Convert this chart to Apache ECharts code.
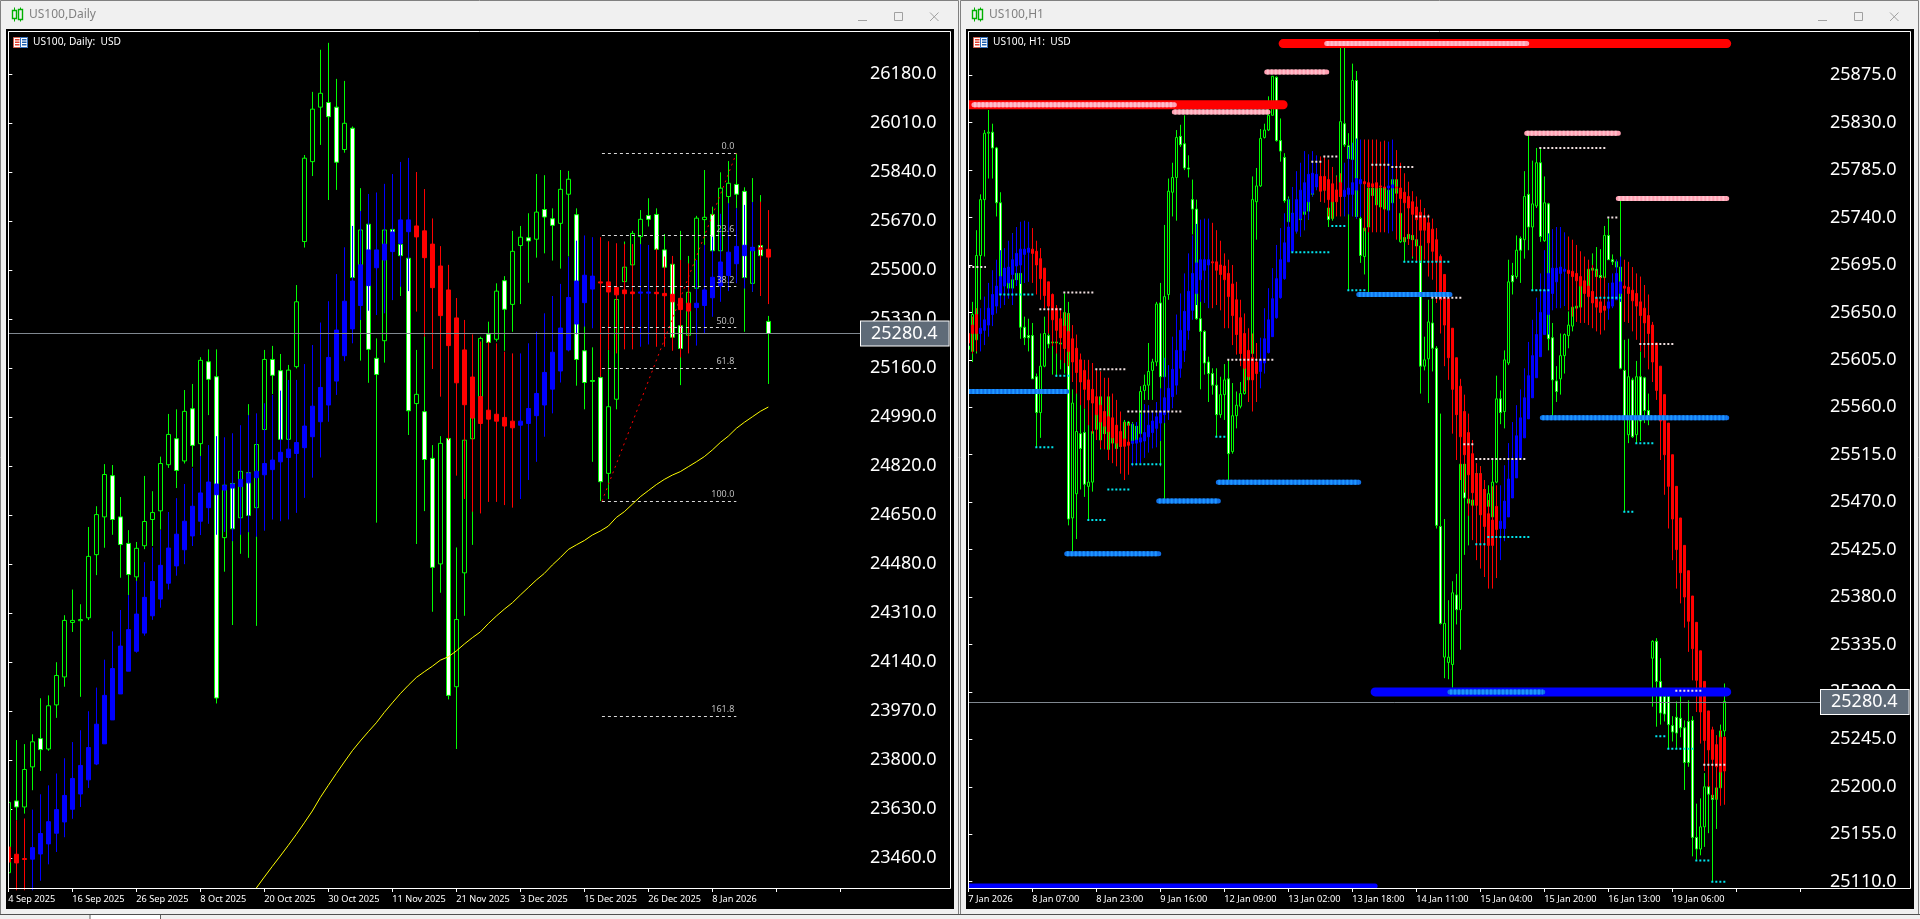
<!DOCTYPE html>
<html><head><meta charset="utf-8">
<style>html,body{margin:0;padding:0;background:#f0f0f0}#c{width:1920px;height:919px}</style>
<script src="https://cdn.jsdelivr.net/npm/echarts@6/dist/echarts.min.js"></script>
</head><body><div id="c"></div>
<script>
// ---------- categories / tick labels
const dailyTickLabels=['4 Sep 2025','16 Sep 2025','26 Sep 2025','8 Oct 2025','20 Oct 2025','30 Oct 2025','11 Nov 2025','21 Nov 2025','3 Dec 2025','15 Dec 2025','26 Dec 2025','8 Jan 2026'];
const h1TickLabels=['7 Jan 2026','8 Jan 07:00','8 Jan 23:00','9 Jan 16:00','12 Jan 09:00','13 Jan 02:00','13 Jan 18:00','14 Jan 11:00','15 Jan 04:00','15 Jan 20:00','16 Jan 13:00','19 Jan 06:00'];
const dailyPriceTicks=[23460,23630,23800,23970,24140,24310,24480,24650,24820,24990,25160,25330,25500,25670,25840,26010,26180];
const h1PriceTicks=[25110,25155,25200,25245,25290,25335,25380,25425,25470,25515,25560,25605,25650,25695,25740,25785,25830,25875];
const lastPrice=25280.4;
// ---------- daily price candles [open, close, low, high]
const dailyCandles=[[23410,23654,23384,23685],[23659,23638,23592,23870],[23638,23768,23615,23856],[23777,23864,23696,23890],[23875,23837,23763,24015],[23839,23989,23833,24025],[23992,24094,23947,24140],[24089,24285,24055,24303],[24278,24285,24245,24392],[24284,24288,24020,24341],[24294,24507,24286,24609],[24513,24652,24442,24681],[24644,24791,24537,24827],[24787,24635,24582,24824],[24644,24548,24433,24713],[24552,24444,24373,24598],[24436,24535,24422,24557],[24544,24628,24532,24786],[24635,24659,24543,24733],[24665,24829,24600,24853],[24825,24930,24814,25001],[24915,24805,24744,25017],[24838,25010,24829,25084],[25019,24892,24818,25105],[24898,25187,24854,25198],[25182,25121,24997,25225],[25130,24016,23997,25225],[24572,24754,24454,24772],[24760,24603,24269,24772],[24641,24802,24516,24824],[24797,24649,24502,25035],[24676,24895,24266,24910],[24947,25190,24910,25223],[25190,25135,25070,25237],[25151,24913,24887,25209],[24913,25153,24910,25171],
[25165,25390,25159,25448],[25599,25888,25578,25899],[25876,26058,25826,26118],[26065,26113,25934,26264],[26081,26032,25743,26288],[26065,25874,25778,26163],[25918,26009,25907,26156],[25992,25474,25300,25998],[25512,25639,25186,25784],[25659,25225,25109,25662],[25194,25138,24624,25263],[25255,25639,25179,25641],[25641,25631,25396,25645],[25589,25550,25410,25627],[25541,25012,24928,25546],[25037,25069,24550,25223],[25009,24843,24664,25275],[24847,24469,24315,24893],[24481,24899,24381,24924],[24916,24025,24011,24934],[24055,24288,23839,24538],[24450,24910,24301,24934],[24915,24988,24547,25130],[25061,25263,24841,25269],
[25278,25249,25246,25321],[25260,25427,25252,25454],[25463,25364,25220,25479],[25381,25565,25286,25636],[25585,25614,25382,25653],[25612,25601,25456,25697],[25607,25701,25543,25833],[25710,25684,25558,25829],[25678,25655,25533,25714],[25662,25780,25505,25847],[25763,25815,25547,25844],[25692,25190,25099,25714],[25220,25110,25017,25309],[25117,25114,24835,25232],[25127,24766,24699,25260],[24795,25026,24706,25223],[25052,25398,25017,25402],[25460,25510,25280,25599],[25518,25627,25419,25636],[25616,25676,25587,25708],[25689,25676,25651,25749],[25693,25572,25547,25714],[25570,25510,25500,25625],[25520,25267,25246,25523],[25307,25228,25101,25636],[25274,25423,25269,25549],[25437,25680,25433,25688],[25675,25683,25587,25847],[25693,25567,25564,25720],[25567,25784,25564,25839],[25755,25801,25697,25878],[25797,25763,25714,25905],[25773,25474,25286,25787],[25454,25578,25425,25819],[25585,25550,25547,25760],[25322,25280,25105,25341]];
// ---------- daily smoothed overlay candles [open, close, low, high]
const dailyOverlay=[[23499,23447,23355,23604],[23474,23444,23349,23592],[23459,23456,23349,23598],[23457,23497,23349,23629],[23475,23546,23382,23682],[23510,23587,23439,23713],[23547,23629,23482,23754],[23586,23678,23533,23807],[23630,23737,23597,23863],[23683,23782,23638,23904],[23732,23844,23704,23970],[23787,23925,23783,24052],[23857,24025,23857,24149],[23940,24118,23940,24247],[24030,24196,24030,24321],[24109,24253,24109,24373],[24178,24307,24173,24422],[24241,24365,24232,24487],[24301,24420,24287,24538],[24359,24476,24329,24598],[24414,24536,24392,24661],[24474,24584,24440,24709],[24530,24629,24480,24758],[24578,24681,24543,24813],[24629,24727,24581,24855],[24676,24765,24620,24893],[24721,24758,24582,24924],[24737,24753,24592,24920],[24744,24758,24560,24934],[24749,24774,24582,24962],[24762,24795,24591,24997],[24780,24802,24575,25003],[24790,24829,24596,25038],[24808,24841,24635,25067],[24835,24868,24629,25082],[24850,24879,24635,25119],[24864,24902,24658,25119],[24884,24959,24710,25174],[24922,25028,24780,25240],[24974,25093,24850,25318],[25032,25197,24974,25392],[25115,25292,25067,25486],[25203,25392,25184,25579],[25296,25462,25246,25653],[25377,25518,25327,25705],[25446,25570,25359,25764],[25508,25570,25344,25769],[25535,25590,25350,25799],[25564,25632,25396,25833],[25593,25674,25442,25875],[25633,25674,25427,25889],
[25653,25615,25356,25840],[25636,25543,25269,25781],[25590,25439,25157,25679],[25514,25342,25061,25583],[25431,25238,24910,25518],[25334,25109,24787,25403],[25223,25033,24706,25327],[25129,24987,24662,25277],[25061,24968,24656,25252],[25014,24983,24696,25252],[25000,24976,24696,25246],[24989,24959,24685,25217],[24976,24953,24676,25211],
[24962,24976,24706,25211],[24968,25020,24772,25246],[24995,25072,24835,25286],[25032,25145,24922,25350],[25087,25215,25003,25410],[25150,25299,25110,25452],[25223,25405,25218,25546],[25313,25462,25277,25602],[25387,25482,25304,25620],[25434,25479,25298,25614],
[25459,25455,25130,25614],[25459,25424,25223,25600],[25440,25414,25211,25593],[25431,25418,25225,25590],[25424,25418,25225,25590],[25420,25424,25234,25590],[25420,25424,25242,25587],[25423,25418,25234,25575],[25419,25411,25234,25547],[25416,25390,25220,25549],[25402,25363,25197,25535],[25385,25358,25211,25523],
[25370,25385,25238,25535],[25377,25431,25280,25587],[25404,25475,25338,25616],[25445,25528,25390,25695],[25481,25562,25427,25732],[25522,25582,25454,25714],[25550,25586,25436,25726],[25567,25579,25425,25736],[25577,25572,25410,25737],[25572,25545,25382,25708]];
// ---------- daily moving average (first bar index, then one value per bar)
const dailyMaStart=31;
const dailyMa=[23357,23395,23432,23468,23505,23543,23583,23624,23671,23713,23754,23794,23833,23867,23899,23930,23966,23999,24031,24060,24087,24107,24126,24147,24159,24179,24203,24225,24245,24274,24300,24324,24346,24373,24399,24425,24448,24477,24503,24531,24547,24562,24581,24595,24612,24642,24662,24688,24714,24735,24756,24774,24789,24801,24818,24835,24853,24876,24902,24924,24951,24972,24991,25010,25025];
// ---------- daily Fibonacci retracement
const fibNames=['0.0','23.6','38.2','50.0','61.8','100.0','161.8'];
const fibPrices=[25905,25620,25443,25301,25160,24698,23953];
const fibFromBar=74.2, fibToBar=91;
// ---------- H1 price candles [open, close, low, high]
const h1Candles=[[25618,25615,25613,25630],[25613,25648,25603,25660],[25624,25704,25611,25728],[25704,25757,25662,25762],[25757,25820,25703,25823],[25820,25821,25777,25842],[25821,25806,25777,25829],[25806,25754,25741,25807],[25754,25684,25668,25764],[25686,25678,25671,25697],[25673,25681,25668,25694],[25673,25681,25657,25725],[25687,25681,25678,25697],[25687,25636,25625,25687],[25636,25626,25619,25646],[25628,25626,25613,25644],[25628,25587,25587,25640],[25589,25555,25522,25592],[25555,25599,25531,25630],[25599,25630,25598,25646],[25628,25620,25616,25660],[25621,25622,25591,25630],[25621,25622,25589,25646],[25621,25620,25596,25630],[25616,25650,25592,25668],[25649,25454,25448,25660],[25455,25564,25423,25577],[25478,25537,25435,25577],[25535,25521,25482,25564],[25536,25487,25475,25559],
[25485,25489,25453,25573],[25489,25537,25480,25564],[25539,25562,25529,25570],[25529,25570,25520,25594],[25554,25535,25521,25570],[25520,25570,25510,25586],[25526,25545,25513,25554],[25529,25521,25516,25545],[25535,25523,25520,25539],[25528,25546,25523,25548],[25546,25543,25516,25547],[25526,25544,25520,25546],[25542,25529,25526,25545],[25535,25575,25526,25580],[25576,25581,25567,25591],[25581,25594,25567,25621],[25595,25603,25567,25606],[25603,25658,25599,25660],[25659,25589,25504,25678],[25589,25665,25472,25733],
[25667,25765,25662,25777],[25764,25778,25741,25792],[25778,25816,25737,25823],[25817,25809,25807,25828],[25810,25787,25785,25837],[25787,25786,25778,25799],[25757,25748,25724,25776],[25748,25644,25643,25757],[25644,25632,25577,25668],[25632,25602,25591,25633],[25603,25592,25565,25608],[25592,25581,25572,25597],[25581,25553,25532,25597],[25553,25572,25550,25589],[25572,25586,25548,25601],[25587,25516,25491,25605],[25518,25552,25516,25583],[25552,25562,25540,25575],[25561,25573,25559,25584],[25573,25599,25572,25616],
[25586,25599,25583,25611],[25611,25757,25567,25779],[25755,25770,25719,25787],[25770,25815,25769,25824],[25816,25823,25815,25829],[25823,25837,25822,25855],[25837,25874,25837,25874],[25873,25813,25812,25874],[25813,25803,25793,25834],[25797,25756,25754,25801],[25736,25757,25706,25760],[25735,25744,25716,25757],[25735,25741,25725,25747],[25738,25744,25722,25757],[25743,25746,25728,25757],[25746,25763,25738,25777],[25762,25779,25760,25785],[25779,25776,25766,25780],[25766,25777,25755,25788],[25766,25771,25760,25798],
[25749,25738,25731,25766],[25739,25760,25737,25779],[25758,25766,25757,25780],[25760,25831,25755,25901],[25829,25809,25807,25901],[25808,25796,25671,25820],[25795,25870,25754,25886],[25870,25741,25739,25879],[25739,25704,25697,25741],[25703,25730,25686,25733],[25731,25768,25668,25773],[25768,25761,25753,25771],[25752,25768,25750,25773],[25768,25750,25749,25771],[25768,25748,25747,25769],[25747,25766,25747,25769],[25754,25776,25753,25777],[25763,25776,25744,25777],[25717,25744,25716,25744],[25721,25717,25698,25725],
[25724,25720,25714,25725],[25723,25719,25701,25725],[25719,25713,25697,25720],[25713,25599,25573,25714],[25599,25605,25595,25627],[25606,25641,25564,25662],[25640,25616,25594,25663],[25616,25448,25445,25618],[25447,25355,25354,25554],[25323,25355,25303,25454],[25318,25323,25302,25377],[25316,25384,25294,25395],[25382,25368,25354,25402],[25368,25506,25330,25510],[25506,25474,25420,25510],[25469,25473,25429,25488],[25467,25472,25453,25485],[25497,25479,25441,25504],[25479,25497,25434,25504],[25482,25469,25425,25488],
[25466,25478,25428,25486],[25456,25489,25441,25510],[25489,25568,25488,25590],[25568,25555,25544,25576],[25556,25605,25540,25614],[25602,25679,25600,25700],[25685,25679,25667,25697],[25684,25709,25682,25723],[25720,25709,25678,25722],[25719,25760,25701,25784],[25762,25731,25709,25818],[25731,25753,25671,25794],[25751,25792,25749,25806],[25792,25722,25717,25806],[25718,25754,25717,25779],[25753,25625,25614,25754],[25626,25586,25550,25640],[25585,25575,25565,25599],[25587,25609,25572,25630],[25609,25629,25592,25630],
[25628,25638,25616,25651],[25637,25655,25632,25656],[25654,25656,25644,25675],[25655,25675,25654,25676],[25675,25671,25668,25694],[25673,25691,25671,25695],[25690,25692,25678,25706],[25691,25684,25676,25712],[25685,25683,25678,25710],[25683,25723,25682,25732],[25723,25700,25700,25739],[25700,25698,25695,25705],[25698,25693,25692,25700],[25693,25597,25596,25757],[25595,25551,25461,25624],[25534,25589,25526,25625],[25586,25532,25531,25588],[25534,25589,25526,25604],[25589,25547,25528,25613],[25588,25557,25545,25589],
[25557,25552,25543,25573],[25322,25338,25276,25339],[25338,25300,25257,25341],[25300,25270,25259,25322],[25286,25269,25262,25287],[25286,25259,25236,25287],[25258,25252,25243,25267],[25266,25251,25236,25281],[25265,25256,25247,25286],[25256,25223,25197,25263],[25262,25223,25219,25282],[25263,25152,25134,25267],[25152,25141,25131,25184],[25141,25162,25135,25189],[25162,25200,25143,25213],[25200,25193,25156,25203],[25192,25188,25110,25194],[25188,25199,25160,25213],[25199,25253,25183,25259],[25253,25281,25248,25298]];
// ---------- H1 smoothed overlay candles [open, close, low, high]
const h1Overlay=[[25630,25621,25611,25643],[25638,25630,25611,25646],[25648,25630,25613,25654],[25630,25635,25613,25654],[25633,25643,25619,25665],[25638,25654,25627,25678],[25648,25667,25637,25690],[25656,25675,25649,25700],[25667,25684,25654,25709],[25675,25692,25657,25711],[25678,25693,25663,25718],[25686,25700,25657,25725],[25694,25706,25675,25731],[25695,25710,25677,25736],[25705,25710,25678,25737],[25707,25711,25679,25736],[25710,25706,25678,25730],[25708,25695,25667,25718],[25701,25682,25662,25711],[25692,25666,25654,25692],[25679,25656,25630,25679],[25667,25643,25618,25668],[25654,25633,25611,25657],[25644,25626,25605,25654],[25637,25616,25602,25650],[25632,25613,25599,25649],[25625,25603,25584,25638],[25616,25593,25573,25629],[25605,25584,25562,25611],[25595,25577,25559,25605],
[25586,25567,25543,25605],[25577,25564,25535,25602],[25570,25553,25529,25596],[25562,25546,25521,25594],[25556,25542,25520,25588],[25551,25537,25510,25588],[25550,25531,25507,25573],[25543,25526,25504,25567],[25537,25523,25497,25556],[25530,25523,25491,25546],[25527,25524,25496,25545],[25526,25528,25504,25545],[25526,25529,25505,25546],[25527,25531,25507,25554],[25528,25536,25512,25563],[25532,25543,25517,25562],[25536,25547,25521,25556],[25540,25551,25522,25565],[25545,25556,25528,25578],[25553,25569,25545,25607],
[25557,25578,25548,25600],[25570,25596,25559,25627],[25581,25614,25572,25648],[25597,25633,25588,25668],[25614,25651,25603,25687],[25633,25670,25624,25706],[25652,25687,25643,25723],[25668,25697,25657,25734],[25681,25700,25660,25738],[25690,25700,25659,25739],[25695,25700,25654,25739],[25698,25697,25654,25735],[25698,25690,25657,25728],[25695,25686,25652,25718],[25694,25681,25635,25706],[25687,25665,25635,25700],[25677,25647,25619,25695],[25662,25629,25610,25679],[25645,25611,25599,25662],[25630,25597,25575,25649],
[25614,25589,25565,25635],[25607,25586,25556,25630],[25603,25592,25565,25621],[25594,25605,25578,25626],[25602,25625,25592,25654],[25612,25643,25611,25673],[25627,25663,25627,25692],[25645,25682,25644,25714],[25664,25700,25663,25730],[25682,25716,25681,25744],[25698,25731,25698,25758],[25708,25744,25708,25769],[25727,25757,25725,25784],[25739,25766,25722,25792],[25746,25773,25728,25803],[25755,25781,25738,25800],[25763,25782,25760,25803],[25769,25781,25766,25799],[25779,25765,25755,25798],[25779,25766,25754,25798],
[25776,25757,25741,25795],[25772,25755,25739,25788],[25766,25755,25741,25779],[25773,25760,25741,25782],[25760,25766,25741,25792],[25762,25768,25743,25807],[25762,25773,25741,25811],[25766,25777,25739,25815],[25772,25776,25741,25814],[25774,25772,25727,25814],[25773,25769,25726,25814],[25772,25769,25726,25814],[25773,25768,25726,25814],[25770,25769,25726,25812],[25769,25768,25726,25813],[25768,25770,25725,25812],[25768,25771,25727,25814],[25769,25768,25719,25804],[25768,25758,25719,25792],[25764,25754,25717,25782],
[25760,25749,25714,25774],[25755,25743,25703,25765],[25750,25738,25698,25760],[25745,25728,25697,25757],[25740,25728,25700,25749],[25735,25716,25684,25743],[25729,25708,25681,25739],[25719,25698,25659,25730],[25703,25662,25630,25705],[25686,25638,25599,25686],[25663,25607,25586,25663],[25635,25577,25535,25635],[25607,25553,25510,25607],[25580,25532,25491,25587],[25556,25515,25479,25572],[25536,25496,25457,25554],[25516,25479,25434,25529],[25497,25467,25415,25507],[25497,25458,25407,25504],[25482,25447,25399,25491],
[25459,25429,25388,25472],[25453,25429,25388,25485],[25466,25444,25398,25486],[25445,25452,25415,25486],[25445,25471,25433,25505],[25456,25492,25456,25526],[25474,25510,25474,25546],[25493,25533,25493,25562],[25512,25550,25511,25577],[25531,25569,25531,25597],[25549,25590,25549,25622],[25569,25609,25569,25643],[25588,25629,25588,25664],[25608,25650,25608,25687],[25629,25671,25629,25709],[25648,25687,25629,25725],[25668,25692,25652,25729],[25679,25692,25654,25731],[25687,25693,25654,25731],[25689,25691,25656,25726],
[25690,25687,25652,25722],[25689,25684,25646,25719],[25687,25680,25641,25714],[25684,25675,25640,25708],[25680,25668,25640,25703],[25675,25665,25638,25700],[25670,25659,25635,25695],[25664,25655,25632,25690],[25660,25650,25629,25684],[25656,25652,25633,25684],[25654,25660,25643,25678],[25656,25678,25654,25687],[25662,25687,25662,25700],[25668,25679,25660,25703],[25675,25673,25641,25700],[25674,25668,25640,25698],[25671,25661,25632,25693],[25668,25656,25624,25687],[25660,25647,25613,25684],[25654,25640,25607,25676],
[25647,25630,25596,25667],[25638,25603,25584,25641],[25621,25576,25567,25621],[25599,25547,25510,25599],[25572,25515,25477,25572],[25545,25485,25445,25545],[25515,25454,25415,25515],[25485,25425,25388,25485],[25455,25403,25374,25455],[25429,25380,25351,25429],[25405,25357,25328,25405],[25381,25331,25301,25381],[25356,25301,25271,25356],[25329,25271,25241,25329],[25300,25244,25215,25300],[25272,25235,25200,25272],[25254,25226,25189,25257],[25240,25219,25188,25249],[25247,25214,25182,25254],[25247,25215,25183,25248]];
// ---------- H1 support / resistance levels: [price, from bar, to bar]
const redZones=[[25847,0,78.7],[25905,78.7,189.6]];
const blueZones=[[25290,101.7,189.6]];
const blueFloor=[[25106,0,101.7]];
const pinkLevels=[[25847,1.4,51.5],[25840,51.5,74.9],[25878,74.6,89.6],[25905,89.6,139.6],[25820,139.6,162.5],[25758,162.5,189.6]];
const skyLevels=[[25575,0,24.6],[25421,24.6,47.6],[25471,47.6,62.5],[25489,62.5,97.6],[25667,97.6,120.4],[25550,143.5,189.6],[25290,120.4,143.6]];
const whiteTicks=[[25693,0,4.4],[25669,23.75,31.4],[25653,17.75,23.3],[25596,31.75,39.4],[25556,39.75,53.3],[25605,64.75,76.4],[25798,88.75,92.5],[25793,85.75,88.4],[25790,100.75,105.4],[25788,105.75,111.4],[25741,111.75,115.4],[25664,115.75,123.3],[25806,142.75,159.4],[25740,159.75,162.4],[25620,167.75,176.4],[25525,123.75,126.4],[25511,126.75,139.4],[25291,176.75,183.5],[25221,183.75,189.4]];
const cyanTicks=[[25667,7.75,16.4],[25590,21.75,25.3],[25522,16.75,21.4],[25506,40.75,48.4],[25482,34.75,40.4],[25453,29.75,34.4],[25532,61.75,64.4],[25707,80.75,90.4],[25732,90.75,94.4],[25671,94.75,99.4],[25698,108.75,120.4],[25671,140.75,145.4],[25664,156.75,163.4],[25526,166.75,171.4],[25461,163.75,166.4],[25437,129.75,140.4],[25430,126.75,129.4],[25248,171.75,174.4],[25236,174.75,181.4],[25130,181.75,185.4],[25110,185.75,189.4]];

const UI='"Noto Sans",sans-serif';
const bars=a=>a.map((r,i)=>[i,r[0],r[1],r[2],r[3]]);
const levelData=a=>{const o=[];a.forEach(r=>{o.push([r[1],r[0]],[r[2],r[0]],[r[2],'-']);});return o;};

function candle(name,data,ax,up,down,bu,bd,width,z){
  return {type:'candlestick',name,data:bars(data),xAxisIndex:ax,yAxisIndex:ax,encode:{x:0,y:[1,2,3,4]},barWidth:width,z,silent:true,
    itemStyle:{color:up,color0:down,borderColor:bu,borderColor0:bd,borderColorDoji:bu,borderWidth:1}};
}
function level(name,rows,ax,color,width,dash,cap,z){
  return {type:'line',name,data:levelData(rows),xAxisIndex:ax,yAxisIndex:ax,showSymbol:false,symbol:'none',silent:true,connectNulls:false,z,
    lineStyle:{color,width,type:dash,cap}};
}
function priceLine(ax){
  return [
   {type:'line',data:[],xAxisIndex:ax,yAxisIndex:ax,z:1,markLine:{silent:true,symbol:'none',animation:false,label:{show:false},
      lineStyle:{color:'#808890',width:1,type:'solid'},data:[{yAxis:lastPrice}]}},
   {type:'line',data:[],xAxisIndex:ax,yAxisIndex:ax,z:30,markLine:{silent:true,symbol:'none',animation:false,
      lineStyle:{color:'transparent',width:0},
      label:{show:true,position:'end',distance:1,formatter:lastPrice.toFixed(1),color:'#fff',fontFamily:UI,fontSize:18,lineHeight:22,
        backgroundColor:'#5f6b78',borderColor:'#fff',borderWidth:1,padding:[2,11,0,10]},
      data:[{yAxis:lastPrice}]}}
  ];
}
function xAxis(ax,step,maxv,labels){
  return {type:'value',gridIndex:ax,min:0,max:maxv,interval:step,position:'bottom',
    axisLine:{show:true,onZero:false,lineStyle:{color:'#fff',width:1}},axisTick:{show:true,length:4,lineStyle:{color:'#fff'}},splitLine:{show:false},
    axisLabel:{color:'#fff',fontFamily:UI,fontSize:9.2,margin:7,align:'left',showMaxLabel:false,hideOverlap:false,formatter:v=>labels[Math.round(v/step)]||''}};
}
function yAxis(ax,min,max,ticks){
  return {type:'value',gridIndex:ax,min,max,position:'right',scale:true,
    axisLine:{show:true,lineStyle:{color:'#fff',width:1}},axisTick:{show:true,length:4,inside:false,customValues:ticks,lineStyle:{color:'#fff'}},splitLine:{show:false},
    axisLabel:{color:'#fff',fontFamily:UI,fontSize:18,margin:10,padding:[2,0,0,0],customValues:ticks,formatter:v=>v.toFixed(1)}};
}
function chrome(dx,title,sub){
  const g=[];
  const gray='#a0a0a0';
  g.push({type:'rect',z:-6,shape:{x:dx+0.5,y:0.5,width:958,height:914},style:{fill:'#f0f0f0',stroke:'#808080',lineWidth:1}});
  g.push({type:'rect',z:-5,shape:{x:dx+6,y:29,width:948,height:880},style:{fill:'#000'}});
  g.push({type:'rect',z:38,shape:{x:dx+1,y:30,width:5,height:878},style:{fill:'#f0f0f0'}});
  g.push({type:'rect',z:38,shape:{x:dx+6,y:30,width:2,height:878},style:{fill:'#000'}});
  // title icon
  g.push({type:'line',z:5,shape:{x1:dx+14.5,y1:7.5,x2:dx+14.5,y2:21.5},style:{stroke:'#00b000',lineWidth:1}});
  g.push({type:'rect',z:5,shape:{x:dx+12.5,y:10.5,width:4,height:8},style:{fill:'#f0f0f0',stroke:'#00b000',lineWidth:1.4}});
  g.push({type:'line',z:5,shape:{x1:dx+20.5,y1:7.5,x2:dx+20.5,y2:21.5},style:{stroke:'#00b000',lineWidth:1}});
  g.push({type:'rect',z:5,shape:{x:dx+18.5,y:9.5,width:4,height:10},style:{fill:'#f0f0f0',stroke:'#00b000',lineWidth:1.4}});
  g.push({type:'text',z:5,style:{x:dx+29,y:15,text:title,fill:'#808080',font:'12px '+UI,textVerticalAlign:'middle'}});
  // window controls
  g.push({type:'line',z:5,shape:{x1:dx+858,y1:20.5,x2:dx+867,y2:20.5},style:{stroke:gray,lineWidth:1}});
  g.push({type:'rect',z:5,shape:{x:dx+894.5,y:12.5,width:8,height:8},style:{fill:'none',stroke:gray,lineWidth:1}});
  g.push({type:'line',z:5,shape:{x1:dx+930,y1:12.5,x2:dx+938.5,y2:21},style:{stroke:gray,lineWidth:1}});
  g.push({type:'line',z:5,shape:{x1:dx+938.5,y1:12.5,x2:dx+930,y2:21},style:{stroke:gray,lineWidth:1}});
  // plot frame
  [[8.5,31.5,950.5,31.5],[8.5,31.5,8.5,888.5],[950.5,31.5,950.5,888.5],[8.5,888.5,950.5,888.5]].forEach(l=>{
    g.push({type:'line',z:40,shape:{x1:dx+l[0],y1:l[1],x2:dx+l[2],y2:l[3]},style:{stroke:'#fff',lineWidth:1}});
  });
  // symbol flag
  g.push({type:'rect',z:41,shape:{x:dx+13.5,y:37.5,width:14,height:10},style:{fill:'#fff',stroke:'#d06050',lineWidth:1}});
  g.push({type:'rect',z:41,shape:{x:dx+20.5,y:37.5,width:7,height:10},style:{fill:'#fff',stroke:'#3070c0',lineWidth:1}});
  [39,41.5,44].forEach(y=>{
    g.push({type:'rect',z:42,shape:{x:dx+15,y,width:4.5,height:1.5},style:{fill:'#e04030'}});
    g.push({type:'rect',z:42,shape:{x:dx+22,y,width:4.5,height:1.5},style:{fill:'#2060b0'}});
  });
  g.push({type:'text',z:41,style:{x:dx+33,y:42,text:sub,fill:'#fff',font:'10.2px '+UI,textVerticalAlign:'middle'}});
  return g;
}
const tabs=[
  {type:'rect',z:-6,shape:{x:0,y:914,width:1920,height:1},style:{fill:'#505050'}},
  {type:'rect',z:-6,shape:{x:90,y:915,width:70,height:4},style:{fill:'#fff'}},
  {type:'rect',z:-6,shape:{x:89.5,y:915,width:1,height:4},style:{fill:'#606060'}},
  {type:'rect',z:-6,shape:{x:160,y:915,width:1,height:4},style:{fill:'#606060'}}
];
const series=[
  ...priceLine(0),
  candle('US100 Daily',dailyCandles,0,'#000','#fff','#00ff00','#00ff00',4,3),
  candle('Daily overlay',dailyOverlay,0,'#0000ff','#ff0000','#0000ff','#ff0000',4,4),
  {type:'line',name:'MA',xAxisIndex:0,yAxisIndex:0,showSymbol:false,symbol:'none',silent:true,z:6,lineStyle:{color:'#ffff00',width:1},
    data:dailyMa.map((v,i)=>[dailyMaStart+i,v])},
  {type:'line',name:'Fibonacci',data:[],xAxisIndex:0,yAxisIndex:0,z:7,markLine:{silent:true,symbol:'none',animation:false,precision:1,
    lineStyle:{color:'#d8d8d8',width:1,type:[3,3]},
    label:{show:true,position:'insideEndTop',color:'#bdbdbd',fontFamily:UI,fontSize:9,distance:[2,2]},
    data:[
      ...fibPrices.map((p,i)=>[{coord:[fibFromBar,p],name:fibNames[i],label:{formatter:fibNames[i]}},{coord:[fibToBar,p]}]),
      [{coord:[fibFromBar,fibPrices[5]],lineStyle:{color:'#ff0000',type:[2,4],width:1},label:{show:false}},{coord:[fibToBar,fibPrices[0]]}]
    ]}},
  ...priceLine(1),
  candle('US100 H1',h1Candles,1,'#000','#fff','#00ff00','#00ff00',2,3),
  candle('H1 overlay',h1Overlay,1,'#0000ff','#ff0000','#0000ff','#ff0000',2,4),
  level('Red zones',redZones,1,'#ff0000',9,'solid','round',8),
  level('Blue zones',blueZones,1,'#0000ff',9,'solid','round',8),
  level('Blue floor',blueFloor,1,'#0000ff',5,'solid','round',8),
  level('Pink levels',pinkLevels,1,'#ff9fb2',5,'solid','round',9),
  level('Pink beads',pinkLevels,1,'#ffc0cb',5,[2,2],'butt',9),
  level('Sky levels',skyLevels,1,'#1070e8',5,'solid','round',9),
  level('Sky beads',skyLevels,1,'#1e98ff',5,[2,2],'butt',9),
  level('White ticks',whiteTicks,1,'#f0e0e0',2,[2,2],'butt',10),
  level('Cyan ticks',cyanTicks,1,'#00e5ee',2,[2,2],'butt',10)
];
const chart=echarts.init(document.getElementById('c'),null,{renderer:'canvas',width:1920,height:919});
chart.setOption({
  animation:false,backgroundColor:'#f0f0f0',
  grid:[{left:8.33,top:32,width:851.67,height:856,show:false},{left:968.33,top:32,width:851.67,height:856,show:false}],
  xAxis:[xAxis(0,8,106.46,dailyTickLabels),xAxis(1,16,212.92,h1TickLabels)],
  yAxis:[yAxis(0,23357,26325.6,dailyPriceTicks),yAxis(1,25104,25916,h1PriceTicks)],
  graphic:{elements:[...chrome(0,'US100,Daily','US100, Daily:  USD'),...chrome(960,'US100,H1','US100, H1:  USD'),...tabs]},
  series
});
</script></body></html>
